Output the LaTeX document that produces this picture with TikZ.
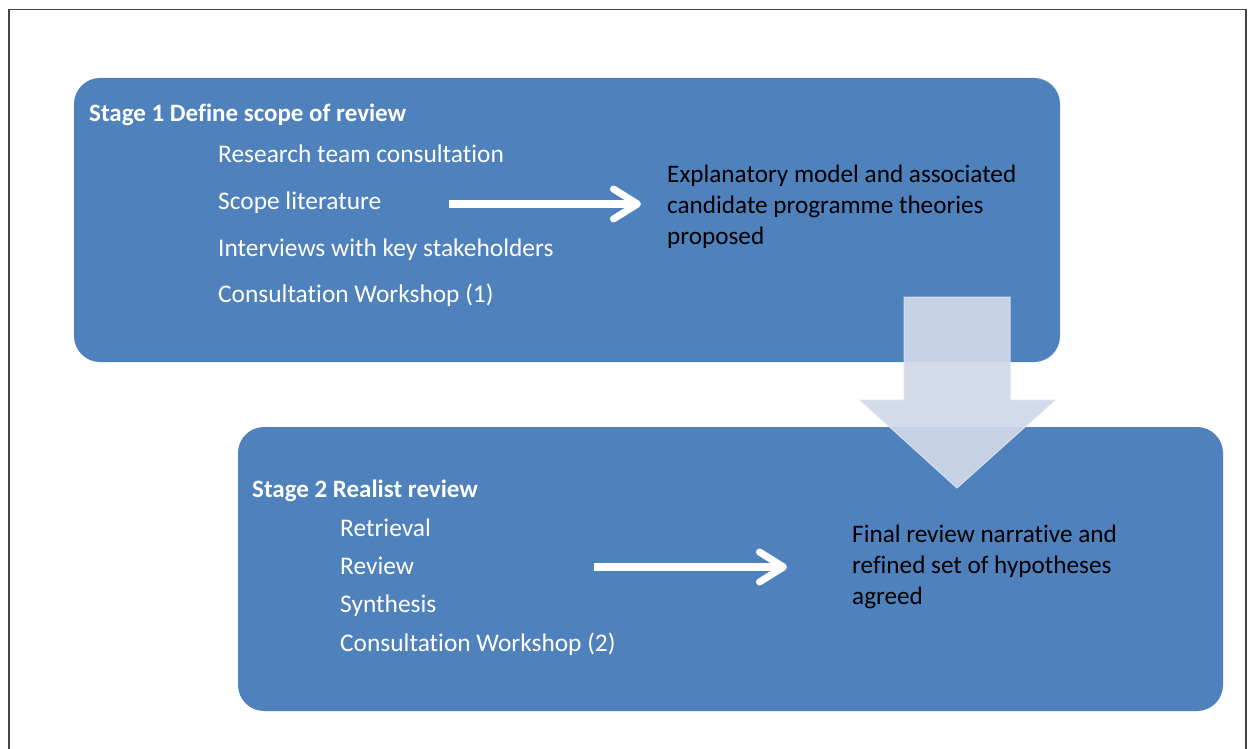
\documentclass[tikz,border=0pt]{standalone}
\usepackage{fontspec}
\setmainfont{Carlito}[Ligatures={NoCommon,NoRare,NoContextual}]
\usetikzlibrary{arrows.meta}
\definecolor{boxblue}{HTML}{4F81BD}
\definecolor{arrowfill}{RGB}{208,217,233}
\definecolor{arrowedge}{RGB}{220,227,239}
\definecolor{framegray}{HTML}{444444}
\tikzset{
  stagebox/.style={fill=boxblue, draw=none, rounded corners=26pt},
  stagetitle/.style={anchor=base west, inner sep=0pt, text=white, font=\fontsize{25}{30.5}\selectfont\bfseries},
  listitem/.style={anchor=base west, inner sep=0pt, text=white, font=\fontsize{25.4}{30.5}\selectfont},
  outcome/.style={anchor=base west, inner sep=0pt, text=black, align=left, font=\fontsize{25.2}{31}\selectfont},
  whitearrow/.style={draw=white, line width=7.5pt, -{Straight Barb[length=24pt,width=30pt,line width=7pt,round]}},
  downarrow/.style={fill=arrowfill, fill opacity=0.92, draw=arrowedge, draw opacity=0.9, line width=1pt, line join=miter},
}
\begin{document}
\begin{tikzpicture}[x=1pt,y=-1pt]
\useasboundingbox (0,0) rectangle (1250,749);
\fill[white] (0,0) rectangle (1250,749);
% frame
\draw[framegray, line width=1.5pt] (9,749) -- (9,9.5) -- (1246,9.5) -- (1246,749);
% boxes
\fill[stagebox] (74,78) rectangle (1060,362);
\fill[stagebox] (238,427) rectangle (1223,711);
% stage 1 texts
\node[stagetitle] (t1) at (89,122) {Stage 1 Define scope of review};
\node[listitem] (i11) at (218,163) {Research team consultation};
\node[listitem] (i12) at (218,209) {Scope literature};
\node[listitem] (i13) at (218,256) {Interviews with key stakeholders};
\node[listitem] (i14) at (218,302) {Consultation Workshop (1)};
\node[outcome] (o1) at (667,244) {Explanatory model and associated\\candidate programme theories\\proposed};
% stage 2 texts
\node[stagetitle] (t2) at (252,497) {Stage 2 Realist review};
\node[listitem] (i21) at (340,536) {Retrieval};
\node[listitem] (i22) at (340,574) {Review};
\node[listitem] (i23) at (340,612) {Synthesis};
\node[listitem] (i24) at (340,651) {Consultation Workshop (2)};
\node[outcome] (o2) at (852,604) {Final review narrative and\\refined set of hypotheses\\agreed};
% white arrows
\coordinate (a1s) at (449,204);
\coordinate (a1e) at (641,204);
\draw[whitearrow] (a1s) -- (a1e);
\coordinate (a2s) at (594,567);
\coordinate (a2e) at (787,567);
\draw[whitearrow] (a2s) -- (a2e);
% down arrow between stages
\draw[downarrow] (904,297) -- (1010,297) -- (1010,400) -- (1055,400) -- (957,488) -- (860,400) -- (904,400) -- cycle;
\end{tikzpicture}
\end{document}
